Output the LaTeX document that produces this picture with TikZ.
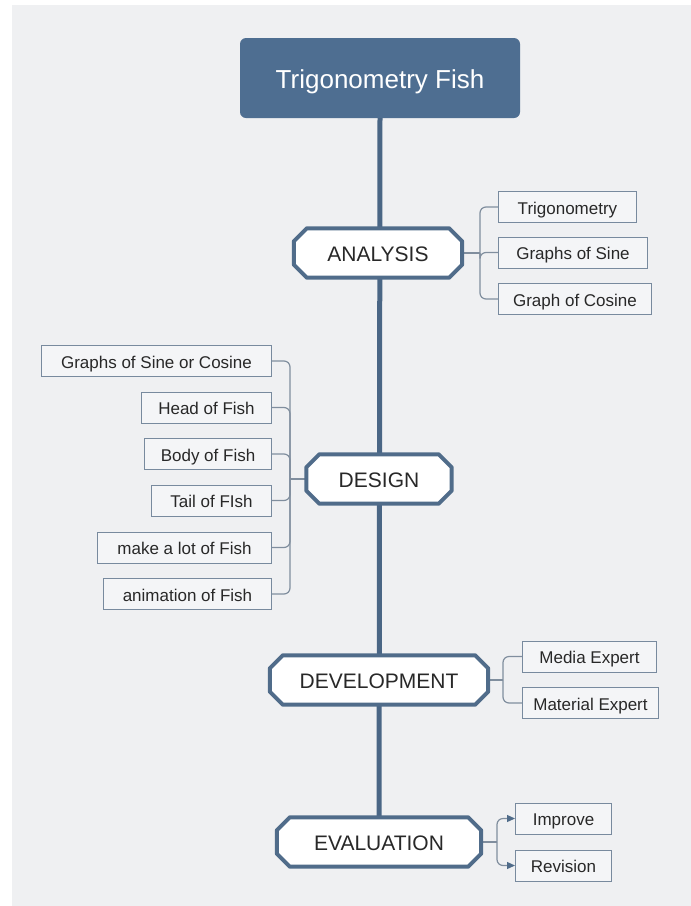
\documentclass[tikz,border=0pt]{standalone}
\usepackage{fontspec}
\setmainfont{Liberation Sans}
\usetikzlibrary{arrows.meta,calc}
\definecolor{bgc}{RGB}{239,240,242}
\definecolor{titlec}{RGB}{78,110,145}
\definecolor{trunkc}{RGB}{74,102,133}
\definecolor{octc}{RGB}{80,108,138}
\definecolor{boxc}{RGB}{120,138,158}
\definecolor{boxfill}{RGB}{244,245,247}
\definecolor{branchc}{RGB}{128,142,158}
\definecolor{txtc}{RGB}{40,40,40}
\tikzset{
  x=1pt,y=-1pt,
  titlebox/.style={rectangle, rounded corners=6pt, fill=titlec, text=white,
    minimum width=280pt, minimum height=80pt, inner sep=0pt,
    text height=20pt, text depth=0pt,
    font=\fontsize{26}{30}\selectfont},
  octtext/.style={rectangle, inner sep=0pt, minimum height=49pt, text=txtc,
    text height=16pt, text depth=0pt,
    font=\fontsize{21}{24}\selectfont},
  octline/.style={draw=octc, line width=4pt, line join=round, fill=white},
  leaf/.style={rectangle, draw=boxc, line width=1pt, fill=boxfill, text=txtc,
    minimum height=31pt, inner sep=0pt, text height=14pt, text depth=0pt,
    font=\fontsize{17}{20}\selectfont},
  trunk/.style={draw=trunkc, line width=5pt},
  branch/.style={draw=branchc, line width=1.2pt, rounded corners=6pt},
  arrowbranch/.style={draw=branchc, line width=1.2pt, rounded corners=6pt,
    -{Triangle[length=8pt,width=7pt,color=octc]}}
}
\newcommand{\octpath}[1]{%
  \path[octline] ([xshift=13pt]#1.north west) -- ([xshift=-13pt]#1.north east)
    -- ([yshift=-13pt]#1.north east) -- ([yshift=13pt]#1.south east)
    -- ([xshift=-13pt]#1.south east) -- ([xshift=13pt]#1.south west)
    -- ([yshift=13pt]#1.south west) -- ([yshift=-13pt]#1.north west) -- cycle;}
\begin{document}
\begin{tikzpicture}
\useasboundingbox (0,0) rectangle (691,906);
\fill[white] (0,0) rectangle (691,906);
\fill[bgc] (12,5) rectangle (691,906);

% main nodes (octagon outlines drawn later)
\node[titlebox] (title) at (380,78) {Trigonometry Fish};
\node[octtext, minimum width=168pt] (analysis) at (378,253) {};
\node[octtext, minimum width=145pt] (design) at (379,479) {};
\node[octtext, minimum width=218pt] (development) at (379,680) {};
\node[octtext, minimum width=204pt] (evaluation) at (379,842) {};

% leaves
\node[leaf, anchor=west, minimum width=138pt] (t1) at (498,207) {Trigonometry};
\node[leaf, anchor=west, minimum width=149pt] (t2) at (498,252.5) {Graphs of Sine};
\node[leaf, anchor=west, minimum width=153pt] (t3) at (498,299) {Graph of Cosine};

\node[leaf, anchor=east, minimum width=230pt] (d1) at (272,361) {Graphs of Sine or Cosine};
\node[leaf, anchor=east, minimum width=130pt] (d2) at (272,407.5) {Head of Fish};
\node[leaf, anchor=east, minimum width=127pt] (d3) at (272,454) {Body of Fish};
\node[leaf, anchor=east, minimum width=120pt] (d4) at (272,500.5) {Tail of FIsh};
\node[leaf, anchor=east, minimum width=174pt] (d5) at (272,547.5) {make a lot of Fish};
\node[leaf, anchor=east, minimum width=168pt] (d6) at (272,594) {animation of Fish};

\node[leaf, anchor=west, minimum width=134pt] (v1) at (522,656.5) {Media Expert};
\node[leaf, anchor=west, minimum width=136pt] (v2) at (522,703) {Material Expert};

\node[leaf, anchor=west, minimum width=96pt] (e1) at (515,818.5) {Improve};
\node[leaf, anchor=west, minimum width=96pt] (e2) at (515,865.5) {Revision};

% hubs
\coordinate (ahub) at (480,253);
\coordinate (dhub) at (290,479);
\coordinate (vhub) at (503,680);
\coordinate (ehub) at (497,842);

% trunk
\draw[trunk] (title.south) -- (evaluation.center);

% branches
\draw[branch] (analysis.east) -- (ahub);
\draw[branch] (ahub) |- (t1.west);
\draw[branch] (ahub) |- (t2.west);
\draw[branch] (ahub) |- (t3.west);

\draw[branch] (design.west) -- (dhub);
\foreach \n in {d1,d2,d3,d4,d5,d6} \draw[branch] (dhub) |- (\n.east);

\draw[branch] (development.east) -- (vhub);
\draw[branch] (vhub) |- (v1.west);
\draw[branch] (vhub) |- (v2.west);

\draw[branch] (evaluation.east) -- (ehub);
\draw[arrowbranch] (ehub) |- (e1.west);
\draw[arrowbranch] (ehub) |- (e2.west);

% octagons
\octpath{analysis}
\octpath{design}
\octpath{development}
\octpath{evaluation}
\node[octtext] at (analysis.center) {ANALYSIS};
\node[octtext] at (design.center) {DESIGN};
\node[octtext] at (development.center) {DEVELOPMENT};
\node[octtext] at (evaluation.center) {EVALUATION};
\end{tikzpicture}
\end{document}
